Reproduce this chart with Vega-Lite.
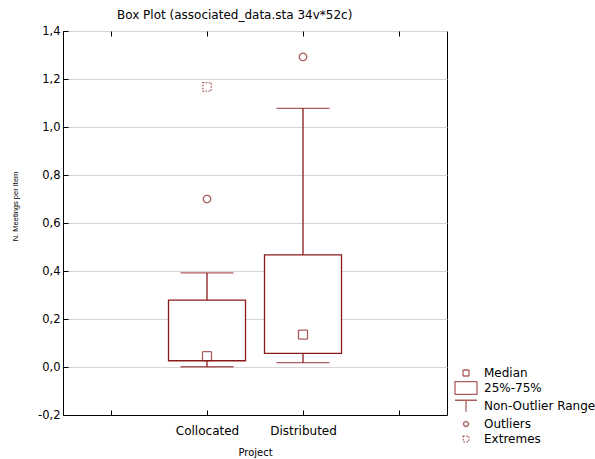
{
  "$schema": "https://vega.github.io/schema/vega-lite/v6.json",
  "width": 384,
  "height": 384,
  "autosize": {"type": "none"},
  "padding": {"left": 63, "top": 31, "right": 148, "bottom": 44},
  "title": {"text": "Box Plot (associated_data.sta 34v*52c)", "anchor": "start", "frame": "group", "dx": 54, "fontSize": 12, "fontWeight": "normal", "font": "DejaVu Sans", "offset": 3, "color": "#000"},
  "config": {
    "view": {"stroke": "#000", "strokeWidth": 1},
    "font": "DejaVu Sans",
    "legend": {
      "orient": "none", "legendX": 394, "legendY": 333, "title": null,
      "symbolSize": 256, "symbolStrokeColor": "#8b1a1a", "symbolFillColor": "transparent", "symbolStrokeWidth": 1.3,
      "labelFontSize": 12, "labelFont": "DejaVu Sans", "labelColor": "#000", "labelOffset": 9, "rowPadding": 0, "padding": 0
    }
  },
  "datasets": {
    "boxes": [
      {"project": "Collocated", "lo": 0.001, "q1": 0.026, "median": 0.045, "q3": 0.279, "hi": 0.392},
      {"project": "Distributed", "lo": 0.018, "q1": 0.057, "median": 0.135, "q3": 0.467, "hi": 1.078}
    ],
    "points": [
      {"project": "Collocated", "value": 0.045, "type": "Median"},
      {"project": "Collocated", "value": 0.70, "type": "Outliers"},
      {"project": "Collocated", "value": 1.167, "type": "Extremes"},
      {"project": "Distributed", "value": 0.135, "type": "Median"},
      {"project": "Distributed", "value": 1.292, "type": "Outliers"}
    ]
  },
  "layer": [
    {
      "data": {"name": "boxes"},
      "mark": {"type": "rule", "color": "#8b1a1a", "strokeWidth": 1.3},
      "encoding": {
        "x": {"field": "project", "type": "nominal", "title": "Project",
          "scale": {"type": "point", "domain": ["p0", "Collocated", "Distributed", "p4"], "padding": 0.5},
          "axis": {"orient": "bottom", "labelAngle": 0, "labelExpr": "datum.value == 'p0' || datum.value == 'p4' ? '' : datum.value",
            "tickSize": -5, "tickColor": "#000", "domainColor": "#000", "labelFontSize": 12, "labelFont": "DejaVu Sans", "labelColor": "#000", "labelPadding": 15,
            "titleFontSize": 10, "titleFont": "DejaVu Sans", "titleFontWeight": "normal", "titleColor": "#000", "titlePadding": 11, "grid": false}},
        "y": {"field": "lo", "type": "quantitative", "title": "N. Meetings per Item",
          "scale": {"domain": [-0.2, 1.4], "nice": false, "zero": false},
          "axis": {"values": [-0.2, 0, 0.2, 0.4, 0.6, 0.8, 1, 1.2, 1.4], "labelExpr": "(datum.value < -0.001 ? '-' : '') + replace(format(abs(datum.value),'.1f'),'.',',')",
            "grid": true, "gridColor": "#d6d6d6", "tickSize": -5, "tickColor": "#000", "domainColor": "#000",
            "labelFontSize": 11.5, "labelFont": "DejaVu Sans", "labelColor": "#000", "labelPadding": 8,
            "titleFontSize": 7.5, "titleFont": "Liberation Sans", "titleFontWeight": "normal", "titleColor": "#000", "titleX": -44, "titleY": 175}},
        "y2": {"field": "hi"}
      }
    },
    {
      "data": {"name": "boxes"},
      "mark": {"type": "bar", "size": 77, "fill": "white", "stroke": "#8b1a1a", "strokeWidth": 1.3},
      "encoding": {
        "x": {"field": "project", "type": "nominal", "axis": {"orient": "top", "labels": false, "title": null, "tickSize": -5, "tickColor": "#000", "domain": false, "grid": false}},
        "y": {"field": "q1", "type": "quantitative", "title": "N. Meetings per Item"},
        "y2": {"field": "q3"}
      }
    },
    {
      "data": {"name": "boxes"},
      "mark": {"type": "tick", "orient": "horizontal", "size": 53, "thickness": 1.3, "color": "#8b1a1a"},
      "encoding": {
        "x": {"field": "project", "type": "nominal", "axis": null},
        "y": {"field": "lo", "type": "quantitative", "title": "N. Meetings per Item"}
      }
    },
    {
      "data": {"name": "boxes"},
      "mark": {"type": "tick", "orient": "horizontal", "size": 53, "thickness": 1.3, "color": "#8b1a1a"},
      "encoding": {
        "x": {"field": "project", "type": "nominal", "axis": null},
        "y": {"field": "hi", "type": "quantitative", "title": "N. Meetings per Item"}
      }
    },
    {
      "data": {"name": "points"},
      "mark": {"type": "point", "filled": false, "size": 576, "color": "#8b1a1a", "strokeWidth": 1.3},
      "encoding": {
        "x": {"field": "project", "type": "nominal", "axis": null},
        "y": {"field": "value", "type": "quantitative", "title": "N. Meetings per Item"},
        "shape": {"field": "type", "type": "nominal",
          "scale": {"domain": ["Median", "25%-75%", "Non-Outlier Range", "Outliers", "Extremes"],
            "range": ["M-0.375,-0.375H0.375V0.375H-0.375Z", "M-1.375,-0.8H1.375V0.8H-1.375Z", "M-1.375,-0.72H1.375M0,-0.72V0.72", "M-0.31,0A0.31,0.31,0,1,0,0.31,0A0.31,0.31,0,1,0,-0.31,0Z", "M-0.35,-0.35H0.35V0.35H-0.35Z"]}},
        "strokeDash": {"field": "type", "type": "nominal",
          "scale": {"domain": ["Median", "25%-75%", "Non-Outlier Range", "Outliers", "Extremes"],
            "range": [[1, 0], [1, 0], [1, 0], [1, 0], [1.5, 1.5]]}}
      }
    }
  ],
  "resolve": {"axis": {"x": "independent"}}
}
